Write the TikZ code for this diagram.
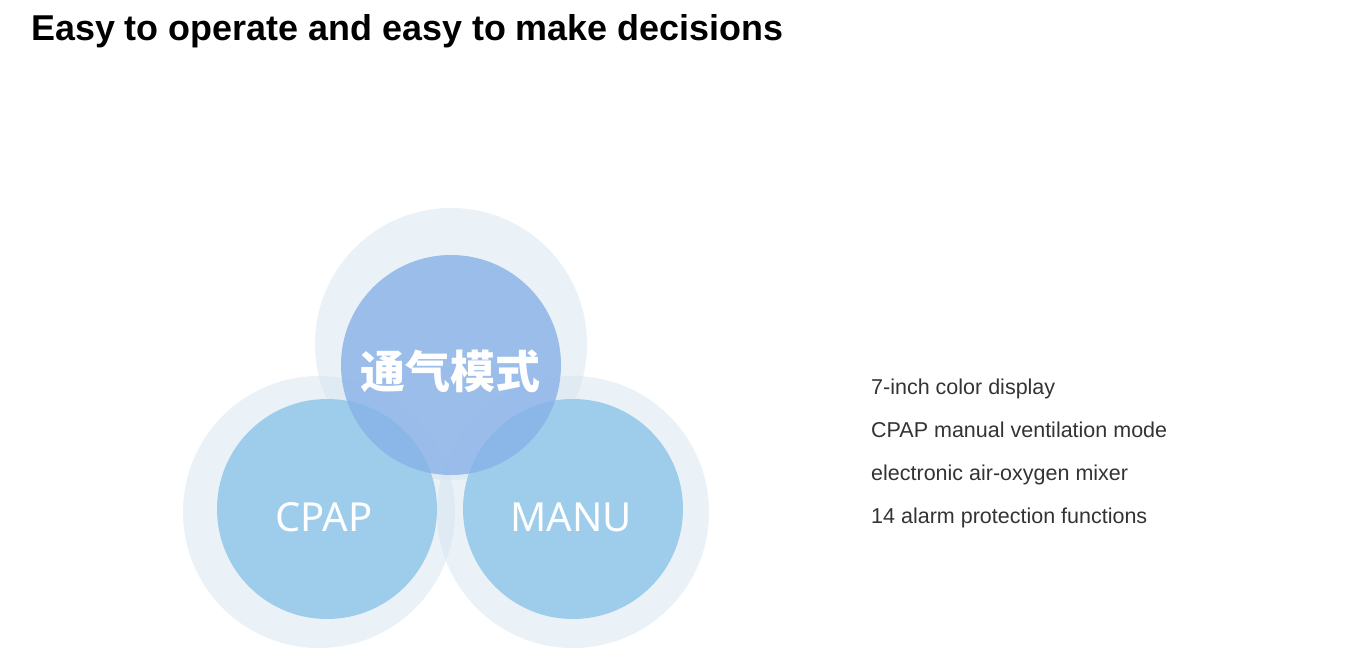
\documentclass[tikz,border=0pt]{standalone}
\usepackage{fontspec}
\setmainfont{Liberation Sans}
\newfontfamily\cjk{Noto Sans CJK SC}
\newfontfamily\modefont{Noto Sans}
\usepackage{tikz}

\definecolor{haloblue}{RGB}{213,227,239}
\definecolor{modeblue}{RGB}{158,205,235}
\definecolor{topblue}{RGB}{135,177,232}
\definecolor{listgray}{RGB}{51,51,51}

\begin{document}
\begin{tikzpicture}[x=1pt,y=-1pt]
                \useasboundingbox (0,0) rectangle (1350,672);
                \node [anchor=base west, inner sep=0pt, font=\bfseries\fontsize{35.9}{42}\selectfont] (title) at (31,40) {Easy to operate and easy to make decisions};
                \begin{scope}[every node/.style={circle, fill=haloblue, fill opacity=0.5, minimum size=272pt, inner sep=0}]
                        \node (Hc) at (319,512) {};
                        \node (Hm) at (573,512) {};
                        \node (Hv) at (451,344) {};
                \end{scope}
                \begin{scope}[every node/.style={circle, minimum size=220pt, inner sep=0, text=white, font=\modefont\fontsize{40}{44}\selectfont}]
                        \node [fill=modeblue] (C) at (327,509) {};
                        \node [fill=modeblue] (M) at (573,509) {};
                        \node [fill=topblue, fill opacity=0.8] (V) at (451,365) {};
                        \node [fill=none, font=\cjk\bfseries\fontsize{45}{48}\selectfont] (Vt) at (450,371) {通气模式};
                        \node [fill=none] (Ct) at (324,517) {CPAP};
                        \node [fill=none] (Mt) at (571,517) {MANU};
                \end{scope}
                \begin{scope}[every node/.style={anchor=base west, inner sep=0pt, text=listgray, font=\fontsize{21.5}{24}\selectfont}]
                        \node (L1) at (871,394) {7-inch color display};
                        \node (L2) at (871,437) {CPAP manual ventilation mode};
                        \node (L3) at (871,480) {electronic air-oxygen mixer};
                        \node (L4) at (871,523) {14 alarm protection functions};
                \end{scope}
        \end{tikzpicture}
\end{document}
